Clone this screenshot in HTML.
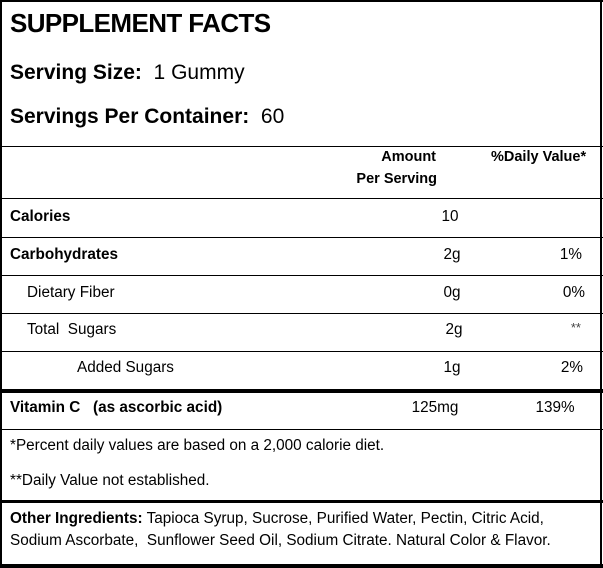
<!DOCTYPE html>
<html><head><meta charset="utf-8"><style>
body{margin:0;width:603px;height:568px;background:#fff;position:relative;overflow:hidden;font-family:"Liberation Sans",sans-serif;color:#000}
.t{position:absolute;white-space:nowrap;line-height:1;font-size:15.3px}
.h{position:absolute;left:0;width:603px;background:#000}
.v{position:absolute;top:0;width:2px;height:568px;background:#000}
.b{font-weight:bold}
.c{transform:translateX(-50%)}
.r{transform:translateX(-100%)}
</style></head><body>
<div class="v" style="left:0"></div>
<div class="v" style="left:600px"></div>
<div class="h" style="top:0;height:2px"></div>
<div class="h" style="top:146px;height:1px"></div>
<div class="h" style="top:198px;height:1px"></div>
<div class="h" style="top:237px;height:1px"></div>
<div class="h" style="top:275px;height:1px"></div>
<div class="h" style="top:313px;height:1px"></div>
<div class="h" style="top:351px;height:1px"></div>
<div class="h" style="top:389px;height:4px"></div>
<div class="h" style="top:429px;height:1px"></div>
<div class="h" style="top:500px;height:3px"></div>
<div class="h" style="top:564px;height:4px"></div>

<div class="t b" style="left:10px;top:10px;font-size:26px;letter-spacing:-0.6px">SUPPLEMENT FACTS</div>
<div class="t" style="left:10px;top:62px;font-size:21px"><b>Serving Size:</b>&nbsp; 1 Gummy</div>
<div class="t" style="left:10px;top:106px;font-size:21px"><b>Servings Per Container:</b>&nbsp; 60</div>

<div class="t b r" style="left:436px;top:150px;font-size:14.5px">Amount</div>
<div class="t b r" style="left:437px;top:172px;font-size:14.5px">Per Serving</div>
<div class="t b" style="left:491px;top:150px;font-size:14.5px">%Daily Value*</div>

<div class="t b" style="left:10px;top:209px">Calories</div>
<div class="t c" style="left:450px;top:209px">10</div>

<div class="t b" style="left:10px;top:247px">Carbohydrates</div>
<div class="t c" style="left:452px;top:247px">2g</div>
<div class="t r" style="left:582px;top:247px">1%</div>

<div class="t" style="left:27px;top:285px">Dietary Fiber</div>
<div class="t c" style="left:452px;top:285px">0g</div>
<div class="t r" style="left:585px;top:285px">0%</div>

<div class="t" style="left:27px;top:322px">Total&nbsp; Sugars</div>
<div class="t c" style="left:454px;top:322px">2g</div>
<div class="t r" style="left:581px;top:321px;font-size:13px;color:#444">**</div>

<div class="t" style="left:77px;top:360px">Added Sugars</div>
<div class="t c" style="left:452px;top:360px">1g</div>
<div class="t r" style="left:583px;top:360px">2%</div>

<div class="t b" style="left:10px;top:400px">Vitamin C&nbsp;&nbsp; (as ascorbic acid)</div>
<div class="t c" style="left:435px;top:400px">125mg</div>
<div class="t c" style="left:555px;top:400px">139%</div>

<div class="t" style="left:10px;top:438px">*Percent daily values are based on a 2,000 calorie diet.</div>
<div class="t" style="left:10px;top:473px">**Daily Value not established.</div>

<div class="t" style="left:10px;top:511px"><b>Other Ingredients:</b> Tapioca Syrup, Sucrose, Purified Water, Pectin, Citric Acid,</div>
<div class="t" style="left:10px;top:533px">Sodium Ascorbate,&nbsp; Sunflower Seed Oil, Sodium Citrate. Natural Color &amp; Flavor.</div>
</body></html>
